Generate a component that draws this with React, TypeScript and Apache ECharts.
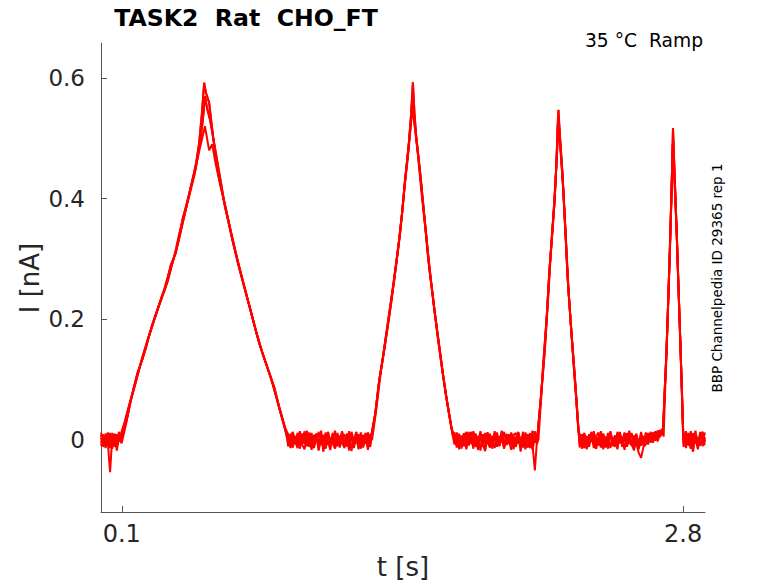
import React, { useEffect, useRef } from "react";
import * as echarts from "echarts";

// ---- axis ticks ----
const X_TICKS = [0.1, 2.8];
const Y_TICKS = [0, 0.2, 0.4, 0.6];

// ---- baseline segments (s) ----
const SEG_A = [0.0, 0.098];
const SEG_B = [0.9, 1.295];
const SEG_C = [1.7, 2.098];
const SEG_D = [2.302, 2.7];
const SEG_E = [2.802, 2.905];

// ---- baseline noise (pA) per trace ----
const T1_A = [3, -8, 10, -4, -54, 6, -12, 9, -3, 12];
const T2_A = [-10, 6, -3, 12, -7, -15, 8, -2, 13, -6];
const T3_A = [8, -12, 2, -6, 11, -9, 4, -18, 7, 5];
const T4_A = [-5, 9, -14, 4, -9, 11, -2, -13, 6, -4];
const T5_A = [12, -3, -9, 7, -14, 2, 10, -8, -1, 9];

const T1_B = [4, -9, 12, -3, -14, 7, -6, 10, -11, 2, -17, 8, -4, 13, -8, -1, -15, 9, -5, 11, -12, 3, -7, 14, -10, 5, -18, 6, -2, 12, -9, 1, -13, 10, -6, 8];
const T2_B = [-6, 10, -12, 5, -3, 14, -9, -16, 6, -1, 11, -13, 4, -8, 9, -20, 2, 12, -7, -3, 15, -11, 7, -5, -14, 10, -2, 6, -10, 13, -4, -15, 8, -7, 11, -1];
const T3_B = [9, -4, -13, 6, -10, 12, -1, -7, 15, -12, 3, -5, 10, -16, -2, 8, -9, 13, -6, 1, -14, 7, -11, 11, -3, -8, 14, -19, 4, -6, 9, -12, 5, -4, 12, -9];
const T4_B = [-11, 5, 13, -7, 2, -15, 10, -4, -9, 12, -1, -14, 7, -6, 15, -10, 4, -3, -17, 8, -8, 11, -13, 1, 9, -5, -12, 13, -2, 7, -16, 4, -9, 11, -3, -12];
const T5_B = [2, -14, 8, -5, 11, -11, -3, 14, -8, 5, -12, 1, 10, -18, 6, -4, 12, -9, 3, -6, -15, 9, -2, 13, -7, -11, 4, 10, -14, 2, -6, 12, -10, 5, -17, 7];

const T1_C = [7, -10, 3, -15, 11, -5, -8, 13, -2, -12, 6, -18, 9, -4, 12, -9, 1, -14, 8, -6, 15, -11, 3, -7, 10, -16, 5, -1, -10, 13, -4, -13, 7, -8, -51, 4];
const T2_C = [-8, 12, -3, -11, 5, -14, 9, -6, 14, -2, -17, 7, -9, 11, -4, -13, 6, -1, 12, -10, 2, -15, 10, -5, 8, -12, -3, 13, -7, 4, -16, 9, -2, -9, 14, -4];
const T3_C = [3, -13, 10, -6, -2, 13, -10, 5, -15, 8, -3, 11, -8, -19, 6, 1, -11, 14, -5, -9, 9, -14, 4, -7, 12, -1, -12, 7, -20, 10, -6, 3, -10, 15, -3, 6];
const T4_C = [12, -6, -13, 2, 9, -16, 6, -3, 11, -9, -4, 14, -12, 3, -7, 10, -15, 5, 1, -11, 13, -6, -2, 9, -14, 6, -9, 12, -1, -13, 8, -5, 11, -17, 3, -7];
const T5_C = [-3, 9, -16, 7, -11, 2, 13, -7, -1, 10, -13, 5, -5, -15, 12, -8, 3, 9, -12, 6, -4, 13, -9, 1, -17, 8, 11, -6, 3, -11, 12, -2, -14, 6, -5, 9];

const T1_D = [6, -11, 2, -16, 9, -4, 12, -8, -1, -13, 7, -6, 11, -14, 3, -9, 13, -5, -2, 10, -12, 5, -7, -18, 8, -3, -10, 6, -4, 11, -1, 7, -2, 14, 4, 16];
const T2_D = [-7, 9, -12, 4, -3, 13, -9, -15, 7, -5, 10, -2, -11, 14, -6, 1, -13, 8, -4, 12, -10, 3, -8, -14, -6, -22, -30, -12, -8, 5, -3, 9, 2, 12, 6, 15];
const T3_D = [10, -5, -14, 6, -9, 1, 14, -11, -3, 8, -16, 5, -7, 12, -1, -12, 9, -6, 3, -17, 11, -4, -10, 7, -2, -13, 10, -5, 4, -8, 13, 0, 8, -3, 11, 18];
const T4_D = [-13, 4, 11, -8, -2, 9, -14, 6, 12, -4, -10, 3, -15, 10, -3, 7, -9, 13, -12, 2, -6, 15, -8, -1, 10, -16, 5, -7, 12, -2, 9, -5, 14, 3, 16, 8];
const T5_D = [4, -15, 9, -2, -12, 11, -6, 3, -10, 14, -4, -13, 6, 8, -11, 2, -16, 12, -3, 7, -9, -2, 11, -14, 5, -8, 13, -10, 1, 8, -5, 12, 4, 15, 9, 13];

const T1_E = [-12, 8, -3, 14, -9, 5, -16, 10, -2, 12];
const T2_E = [6, -14, 11, -5, -20, 9, -8, 13, -11, 4];
const T3_E = [-4, 12, -10, 3, -7, 15, -13, 7, -1, -9];
const T4_E = [9, -7, 2, -15, 11, -4, -11, 6, 13, -3];
const T5_E = [-8, 14, -6, 5, -13, 10, -2, -10, 8, -5];

// ---- ramp responses [t (s), I (nA)] per trace ----
const T1_R1 = [[0.1, 0.012], [0.115, 0.03], [0.13, 0.05], [0.151, 0.077], [0.175, 0.11], [0.199, 0.133], [0.225, 0.165], [0.256, 0.199], [0.285, 0.228], [0.312, 0.254], [0.336, 0.29], [0.36, 0.31], [0.392, 0.365], [0.415, 0.395], [0.44, 0.431], [0.458, 0.46], [0.472, 0.492], [0.485, 0.54], [0.496, 0.592], [0.505, 0.575], [0.52, 0.559], [0.54, 0.5], [0.56, 0.448], [0.58, 0.415], [0.6, 0.381], [0.633, 0.33], [0.665, 0.285], [0.697, 0.243], [0.73, 0.2], [0.761, 0.16], [0.795, 0.125], [0.825, 0.094], [0.855, 0.055], [0.882, 0.022], [0.895, 0.005]];
const T2_R1 = [[0.1, -0.005], [0.12, 0.025], [0.14, 0.06], [0.165, 0.092], [0.19, 0.125], [0.215, 0.15], [0.245, 0.19], [0.27, 0.215], [0.3, 0.245], [0.325, 0.275], [0.35, 0.3], [0.375, 0.34], [0.4, 0.372], [0.425, 0.405], [0.45, 0.44], [0.47, 0.475], [0.49, 0.505], [0.5, 0.52], [0.51, 0.5], [0.52, 0.48], [0.535, 0.49], [0.55, 0.46], [0.575, 0.42], [0.6, 0.385], [0.63, 0.335], [0.66, 0.29], [0.69, 0.252], [0.72, 0.215], [0.75, 0.175], [0.78, 0.14], [0.81, 0.11], [0.84, 0.075], [0.865, 0.045], [0.89, 0.01]];
const T3_R1 = [[0.1, 0.005], [0.125, 0.035], [0.145, 0.068], [0.17, 0.1], [0.2, 0.138], [0.23, 0.172], [0.26, 0.203], [0.29, 0.235], [0.32, 0.262], [0.345, 0.295], [0.37, 0.325], [0.4, 0.37], [0.43, 0.415], [0.455, 0.45], [0.475, 0.49], [0.49, 0.53], [0.5, 0.57], [0.51, 0.55], [0.525, 0.53], [0.545, 0.49], [0.57, 0.44], [0.595, 0.39], [0.625, 0.345], [0.655, 0.3], [0.685, 0.26], [0.715, 0.22], [0.745, 0.18], [0.775, 0.145], [0.805, 0.115], [0.835, 0.085], [0.86, 0.05], [0.885, 0.02]];

const T1_R2 = [[1.302, 0.01], [1.32, 0.045], [1.339, 0.1], [1.36, 0.145], [1.388, 0.21], [1.41, 0.265], [1.436, 0.337], [1.452, 0.39], [1.468, 0.448], [1.48, 0.49], [1.492, 0.542], [1.5, 0.593], [1.508, 0.54], [1.516, 0.503], [1.532, 0.45], [1.548, 0.393], [1.565, 0.335], [1.58, 0.282], [1.6, 0.225], [1.62, 0.171], [1.64, 0.12], [1.66, 0.072], [1.676, 0.04], [1.692, 0.008]];
const T2_R2 = [[1.304, 0.0], [1.325, 0.052], [1.345, 0.11], [1.37, 0.165], [1.395, 0.225], [1.42, 0.29], [1.44, 0.345], [1.46, 0.42], [1.475, 0.465], [1.49, 0.52], [1.498, 0.55], [1.505, 0.53], [1.512, 0.51], [1.525, 0.47], [1.54, 0.415], [1.56, 0.35], [1.575, 0.295], [1.595, 0.24], [1.615, 0.182], [1.635, 0.13], [1.655, 0.082], [1.675, 0.04], [1.695, 0.0]];
const T3_R2 = [[1.3, 0.005], [1.318, 0.04], [1.335, 0.09], [1.355, 0.135], [1.38, 0.195], [1.405, 0.255], [1.43, 0.32], [1.448, 0.375], [1.462, 0.43], [1.478, 0.48], [1.49, 0.525], [1.497, 0.565], [1.503, 0.55], [1.51, 0.52], [1.52, 0.49], [1.536, 0.44], [1.552, 0.383], [1.57, 0.318], [1.585, 0.27], [1.605, 0.212], [1.625, 0.16], [1.645, 0.108], [1.665, 0.062], [1.685, 0.02], [1.698, 0.005]];

const T1_R3 = [[2.102, 0.015], [2.118, 0.08], [2.134, 0.149], [2.146, 0.215], [2.158, 0.287], [2.17, 0.34], [2.182, 0.398], [2.192, 0.47], [2.2, 0.547], [2.208, 0.5], [2.215, 0.465], [2.222, 0.426], [2.234, 0.345], [2.246, 0.26], [2.26, 0.19], [2.275, 0.122], [2.287, 0.065], [2.298, 0.01]];
const T2_R3 = [[2.104, 0.0], [2.12, 0.085], [2.136, 0.155], [2.15, 0.23], [2.162, 0.3], [2.175, 0.37], [2.186, 0.43], [2.196, 0.49], [2.202, 0.52], [2.208, 0.49], [2.216, 0.45], [2.226, 0.4], [2.238, 0.32], [2.25, 0.24], [2.263, 0.175], [2.278, 0.11], [2.29, 0.05], [2.3, 0.0]];
const T3_R3 = [[2.1, 0.01], [2.116, 0.07], [2.13, 0.14], [2.144, 0.205], [2.156, 0.275], [2.168, 0.335], [2.18, 0.39], [2.19, 0.455], [2.198, 0.535], [2.205, 0.51], [2.212, 0.475], [2.22, 0.435], [2.232, 0.355], [2.244, 0.27], [2.258, 0.2], [2.272, 0.13], [2.285, 0.07], [2.296, 0.015]];

const T1_R4 = [[2.704, 0.02], [2.712, 0.085], [2.72, 0.149], [2.728, 0.23], [2.736, 0.315], [2.744, 0.41], [2.751, 0.517], [2.76, 0.43], [2.769, 0.343], [2.777, 0.26], [2.785, 0.177], [2.792, 0.1], [2.8, 0.015]];
const T2_R4 = [[2.706, 0.005], [2.714, 0.09], [2.722, 0.16], [2.73, 0.245], [2.738, 0.33], [2.746, 0.43], [2.752, 0.5], [2.761, 0.42], [2.77, 0.335], [2.778, 0.25], [2.786, 0.165], [2.794, 0.085], [2.8, 0.0]];
const T3_R4 = [[2.703, 0.015], [2.711, 0.08], [2.719, 0.14], [2.727, 0.22], [2.735, 0.305], [2.743, 0.4], [2.75, 0.49], [2.759, 0.425], [2.768, 0.35], [2.776, 0.265], [2.784, 0.185], [2.791, 0.11], [2.799, 0.02]];

// ---- texts ----
const TITLE = "TASK2  Rat  CHO_FT";
const CONDITION = "35 °C  Ramp";
const SIDE_NOTE = "BBP Channelpedia ID 29365 rep 1";
const X_NAME = "t [s]";
const Y_NAME = "I [nA]";

const FONT = "'DejaVu Sans', 'Noto Sans', sans-serif";

function baseline(seg: number[], noise: number[]) {
  const n = noise.length;
  return noise.map((v, i) => [seg[0] + ((seg[1] - seg[0]) * i) / (n - 1), v / 1000]);
}

function trace(a: number[], r1: number[][], b: number[], r2: number[][], c: number[], r3: number[][], d: number[], r4: number[][], e: number[]) {
  return [
    ...baseline(SEG_A, a),
    ...r1,
    ...baseline(SEG_B, b),
    ...r2,
    ...baseline(SEG_C, c),
    ...r3,
    ...baseline(SEG_D, d),
    ...r4,
    ...baseline(SEG_E, e),
  ];
}

const TRACES = [
  trace(T1_A, T1_R1, T1_B, T1_R2, T1_C, T1_R3, T1_D, T1_R4, T1_E),
  trace(T2_A, T2_R1, T2_B, T2_R2, T2_C, T2_R3, T2_D, T2_R4, T2_E),
  trace(T3_A, T3_R1, T3_B, T3_R2, T3_C, T3_R3, T3_D, T3_R4, T3_E),
  trace(T4_A, T1_R1, T4_B, T1_R2, T4_C, T1_R3, T4_D, T1_R4, T4_E),
  trace(T5_A, T3_R1, T5_B, T3_R2, T5_C, T3_R3, T5_D, T3_R4, T5_E),
];

const fmt = (v: number) => {
  const r = Math.round(v * 10) / 10;
  return r === 0 ? "0" : String(r);
};

export default function App() {
  const ref = useRef<HTMLDivElement>(null);
  useEffect(() => {
    if (!ref.current) return;
    const chart = echarts.init(ref.current, null, { renderer: "svg" });
    const axisColor = "#555555";
    const labelColor = "#262626";
    chart.setOption({
      animation: false,
      backgroundColor: "#ffffff",
      grid: { left: 101, right: 73, top: 43, bottom: 71, containLabel: false },
      xAxis: {
        type: "value",
        min: 0,
        max: 2.905,
        axisLine: { show: true, onZero: false, lineStyle: { color: axisColor, width: 1 } },
        axisTick: { show: true, inside: true, length: 6, customValues: X_TICKS, lineStyle: { color: axisColor, width: 1 } },
        axisLabel: { customValues: X_TICKS, formatter: fmt, fontSize: 24, color: labelColor, fontFamily: FONT, margin: 10 },
        splitLine: { show: false },
      },
      yAxis: {
        type: "value",
        min: -0.12,
        max: 0.658,
        axisLine: { show: true, onZero: false, lineStyle: { color: axisColor, width: 1 } },
        axisTick: { show: true, inside: true, length: 6, customValues: Y_TICKS, lineStyle: { color: axisColor, width: 1 } },
        axisLabel: { customValues: Y_TICKS, formatter: fmt, fontSize: 23, color: labelColor, fontFamily: FONT, margin: 16 },
        splitLine: { show: false },
      },
      series: TRACES.map((data) => ({
        type: "line",
        data,
        symbol: "none",
        showSymbol: false,
        silent: true,
        lineStyle: { color: "#ff0000", width: 2 },
      })),
      graphic: [
        { type: "text", x: 246, y: 18, style: { text: TITLE, fontSize: 23.6, fontWeight: "bold", fontFamily: FONT, fill: "#000", align: "center", verticalAlign: "middle" } },
        { type: "text", x: 703, y: 40, style: { text: CONDITION, fontSize: 18.7, fontFamily: FONT, fill: "#000", align: "right", verticalAlign: "middle" } },
        { type: "text", x: 717, y: 278, rotation: Math.PI / 2, style: { text: SIDE_NOTE, fontSize: 13.5, fontFamily: FONT, fill: "#000", align: "center", verticalAlign: "middle" } },
        { type: "text", x: 30, y: 278, rotation: Math.PI / 2, style: { text: Y_NAME, fontSize: 26, fontFamily: FONT, fill: labelColor, align: "center", verticalAlign: "middle" } },
        { type: "text", x: 403, y: 567, style: { text: X_NAME, fontSize: 26, fontFamily: FONT, fill: labelColor, align: "center", verticalAlign: "middle" } },
      ],
    });
    return () => chart.dispose();
  }, []);
  return <div ref={ref} style={{ position: "fixed", left: 0, top: 0, width: 778, height: 583, background: "#fff" }} />;
}
